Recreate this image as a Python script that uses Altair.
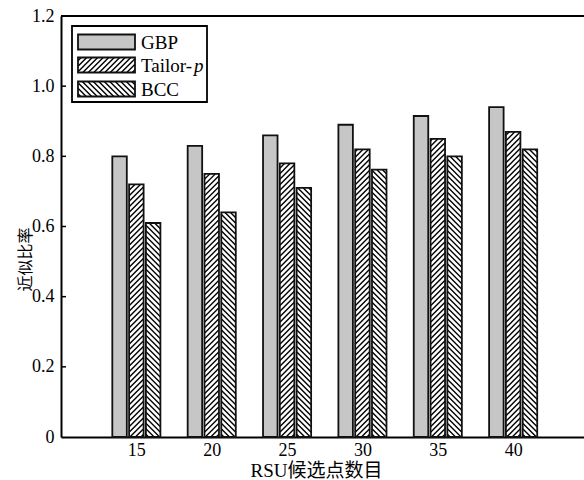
import altair as alt
import pandas as pd

# ---------------- data ----------------
groups = [15, 20, 25, 30, 35, 40]
series = ["GBP", "Tailor-p", "BCC"]
gbp = [0.80, 0.83, 0.86, 0.89, 0.915, 0.94]
tailor_p = [0.72, 0.75, 0.78, 0.82, 0.85, 0.87]
bcc = [0.61, 0.64, 0.71, 0.762, 0.80, 0.82]
y_ticks = [0, 0.2, 0.4, 0.6, 0.8, 1.0, 1.2]

# ---------------- layout / style ----------------
PW, PH = 523, 421              # plot area in px
XMIN, XMAX = 10, 44.7
YMIN, YMAX = 0, 1.2
PXX = PW / (XMAX - XMIN)
PXY = PH / (YMAX - YMIN)
BAR_W = 14.5                   # bar width px
BAR_STEP = 16.8                # distance between bar centres px
HATCH_D = 5.5                  # hatch vertical period px
SERIF = "Liberation Serif, Times New Roman, serif"
MIXED = "Liberation Serif, Noto Sans CJK SC, serif"
hatch_kind = {"GBP": None, "Tailor-p": "fwd", "BCC": "bwd"}
fills = {"GBP": "#c6c6c6", "Tailor-p": "#ffffff", "BCC": "#ffffff"}


def hatch_segments(w, h, kind, d=HATCH_D):
    """segments (u1, p1, u2, p2) inside a w x h box, p measured upward"""
    segs = []
    if kind == "fwd":
        c = -w + d / 2
        while c < h:
            ua, ub = max(0.0, -c), min(w, h - c)
            if ub - ua > 0.3:
                segs.append((ua, ua + c, ub, ub + c))
            c += d
    elif kind == "bwd":
        c = d / 2
        while c < h + w:
            ua, ub = max(0.0, c - h), min(w, c)
            if ub - ua > 0.3:
                segs.append((ua, c - ua, ub, c - ub))
            c += d
    return segs


values = {"GBP": gbp, "Tailor-p": tailor_p, "BCC": bcc}
bar_rows, hatch_rows = [], []
for k, s in enumerate(series):
    for g, v in zip(groups, values[s]):
        xc = g + (k - 1) * BAR_STEP / PXX
        bar_rows.append({"group": g, "series": s, "value": v, "xpos": xc})
        for (u1, p1, u2, p2) in hatch_segments(BAR_W, v * PXY, hatch_kind[s]):
            hatch_rows.append({
                "xpos": xc + (u1 - BAR_W / 2) / PXX, "value": p1 / PXY,
                "x2": xc + (u2 - BAR_W / 2) / PXX, "y2": p2 / PXY,
            })
bars_df = pd.DataFrame(bar_rows)
hatch_df = pd.DataFrame(hatch_rows)
ticks_df = pd.DataFrame({"value": y_ticks[1:-1]})

xs = alt.Scale(domain=[XMIN, XMAX], nice=False, zero=False, padding=0)
ys = alt.Scale(domain=[YMIN, YMAX], nice=False, padding=0)

x_axis = alt.Axis(
    values=groups, ticks=False, grid=False, domain=True,
    labelPadding=4, title="RSU候选点数目", titleFontSize=19,
    titleX=255, titleY=33, titleBaseline="middle")
y_axis = alt.Axis(
    values=y_ticks, ticks=False, domain=True, grid=False,
    labelExpr="datum.value == 0 ? '0' : format(datum.value, '.1f')",
    labelPadding=7, title="近似比率", titleFontSize=16,
    titleX=-36, titleY=243, titleBaseline="middle", titleAngle=270)

X = alt.X("xpos:Q", scale=xs, axis=x_axis)
Y = alt.Y("value:Q", scale=ys, axis=y_axis)

base = alt.Chart(bars_df)

bar_fill = base.mark_bar(size=BAR_W, strokeWidth=0).encode(
    x=X, y=Y,
    fill=alt.Fill("series:N", scale=alt.Scale(
        domain=series, range=[fills[s] for s in series]), legend=None),
)

hatch = alt.Chart(hatch_df).mark_rule(
    color="black", strokeWidth=1.4, strokeCap="butt").encode(
    x=X, x2="x2:Q", y=Y, y2="y2:Q",
)

bar_outline = base.mark_bar(size=BAR_W, fillOpacity=0, stroke="#111111",
                            strokeWidth=1.8).encode(x=X, y=Y)

top_line = alt.Chart(bars_df).mark_rule(color="black", strokeWidth=2).encode(
    x=alt.value(0), x2=alt.value(PW), y=alt.value(0))

# inward y ticks
y_tick_marks = alt.Chart(ticks_df).mark_rule(
    color="black", strokeWidth=1.5).encode(
    x=alt.value(0), x2=alt.value(5), y=Y)

# ---------------- legend (pixel coordinates in plot area) ----------------
LBOX = (11, 10, 146, 86)       # x1, y1, x2, y2
SW_X, SW_W, SW_H = 17, 57, 15
ROW_Y = [26, 49, 73]           # swatch centres
LAB_X = 80

box_df = pd.DataFrame([{"lx": LBOX[0], "ly": LBOX[1], "lx2": LBOX[2], "ly2": LBOX[3]}])
legend_box = alt.Chart(box_df).mark_rect(
    fill="white", stroke="black", strokeWidth=1.8).encode(
    x=alt.X("lx:Q", scale=None), x2="lx2:Q",
    y=alt.Y("ly:Q", scale=None), y2="ly2:Q")

sw_rows, sw_hatch = [], []
for s, cy in zip(series, ROW_Y):
    top = cy - SW_H / 2
    sw_rows.append({"series": s, "lx": SW_X, "lx2": SW_X + SW_W,
                    "ly": top, "ly2": top + SW_H})
    for (u1, p1, u2, p2) in hatch_segments(SW_W, SW_H, hatch_kind[s]):
        sw_hatch.append({"lx": SW_X + u1, "ly": top + SW_H - p1,
                         "lx2": SW_X + u2, "ly2": top + SW_H - p2})
sw_df = pd.DataFrame(sw_rows)
swh_df = pd.DataFrame(sw_hatch)

legend_fill = alt.Chart(sw_df).mark_rect(strokeWidth=0).encode(
    x=alt.X("lx:Q", scale=None), x2="lx2:Q",
    y=alt.Y("ly:Q", scale=None), y2="ly2:Q",
    fill=alt.Fill("series:N", scale=alt.Scale(
        domain=series, range=[fills[s] for s in series]), legend=None))
legend_hatch = alt.Chart(swh_df).mark_rule(
    color="black", strokeWidth=1.4, strokeCap="butt").encode(
    x=alt.X("lx:Q", scale=None), x2="lx2:Q",
    y=alt.Y("ly:Q", scale=None), y2="ly2:Q")
legend_outline = alt.Chart(sw_df).mark_rect(
    fillOpacity=0, stroke="#111111", strokeWidth=1.8).encode(
    x=alt.X("lx:Q", scale=None), x2="lx2:Q",
    y=alt.Y("ly:Q", scale=None), y2="ly2:Q")

lab_df = pd.DataFrame([
    {"t": "GBP", "lx": LAB_X, "ly": ROW_Y[0], "style": "normal"},
    {"t": "Tailor-", "lx": LAB_X, "ly": ROW_Y[1], "style": "normal"},
    {"t": "p", "lx": LAB_X + 53, "ly": ROW_Y[1], "style": "italic"},
    {"t": "BCC", "lx": LAB_X, "ly": ROW_Y[2], "style": "normal"},
])
legend_text_n = alt.Chart(lab_df).transform_filter(
    "datum.style == 'normal'").mark_text(
    font=SERIF, fontSize=19, align="left", baseline="middle",
    color="black", dy=1).encode(
    x=alt.X("lx:Q", scale=None), y=alt.Y("ly:Q", scale=None), text="t:N")
legend_text_i = alt.Chart(lab_df).transform_filter(
    "datum.style == 'italic'").mark_text(
    font=SERIF, fontSize=19, align="left", baseline="middle",
    fontStyle="italic", color="black", dy=1).encode(
    x=alt.X("lx:Q", scale=None), y=alt.Y("ly:Q", scale=None), text="t:N")

chart = alt.layer(
    bar_fill, hatch, bar_outline, top_line, y_tick_marks,
    legend_box, legend_fill, legend_hatch, legend_outline,
    legend_text_n, legend_text_i,
).properties(
    width=PW, height=PH,
    padding={"left": 61, "top": 16, "right": 0, "bottom": 43},
    autosize=alt.AutoSizeParams(type="none"),
    background="white",
).configure_view(stroke=None).configure_axis(
    labelFont=SERIF, labelFontSize=18, labelColor="black",
    domainColor="black", domainWidth=2,
    titleFont=MIXED, titleFontWeight="normal",
    titleColor="black",
)

chart.save("out.html", embed_options={"renderer": "svg", "actions": False})
